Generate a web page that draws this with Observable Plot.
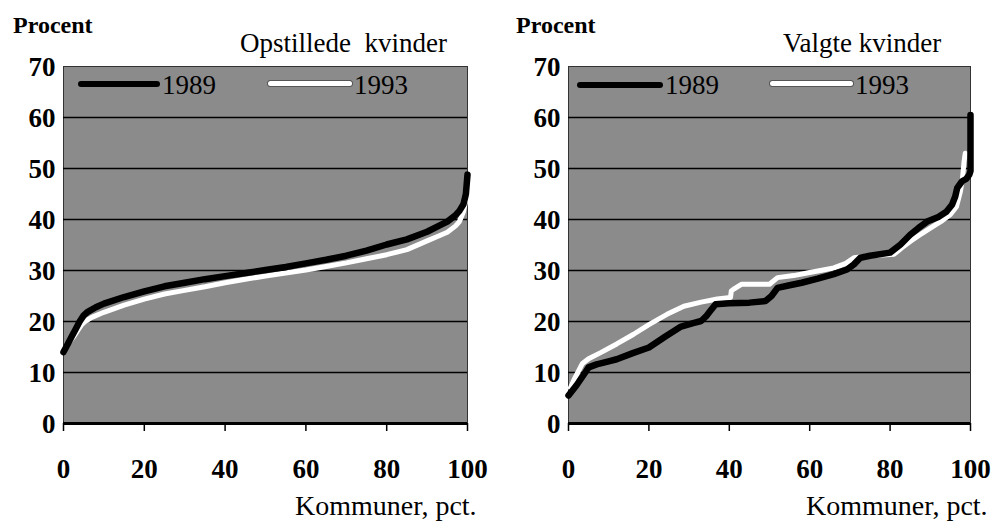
<!DOCTYPE html>
<html>
<head>
<meta charset="utf-8">
<script src="https://cdn.jsdelivr.net/npm/d3@7"></script>
<script src="https://cdn.jsdelivr.net/npm/@observablehq/plot@0.6"></script>
<style>
  html, body { margin: 0; padding: 0; background: #fff; }
  #wrap { position: relative; width: 995px; height: 522px; display: flex; color: #000; font-family: 'Liberation Serif', serif; }
  .t { position: absolute; white-space: pre; line-height: 1; font-family: 'Liberation Serif', serif; }
  .lg { position: absolute; }
</style>
</head>
<body>
<div id="wrap"></div>
<script>
// ---- data ----
const xTicks = [0, 20, 40, 60, 80, 100];
const yTicks = [0, 10, 20, 30, 40, 50, 60, 70];
const gridValues = [10, 20, 30, 40, 50, 60];
const seriesNames = ["1989", "1993"];
const panelTitles = ["Opstillede  kvinder", "Valgte kvinder"];
const yAxisTitle = "Procent";
const xAxisTitle = "Kommuner, pct.";

// Opstillede kvinder (candidates)
const opst1989X = [0, 1, 2, 3, 4, 5, 6, 8, 10, 15, 20, 25, 30, 35, 40, 46, 50, 55, 60, 65, 70, 75, 80, 85, 90, 93, 95, 97, 98, 99, 99.6, 100];
const opst1989Y = [14, 15.5, 17, 18.5, 20, 21.2, 21.9, 22.8, 23.5, 24.8, 25.9, 26.9, 27.6, 28.3, 28.9, 29.6, 30.1, 30.7, 31.4, 32.1, 32.9, 33.9, 35.1, 36.1, 37.6, 38.8, 39.6, 40.8, 41.7, 43, 45, 48.8];
const opst1993X = [1.5, 2.5, 3.5, 4.5, 5.5, 7, 10, 15, 20, 25, 30, 35, 40, 45, 50, 55, 60, 65, 70, 75, 80, 85, 90, 93, 95, 97, 98, 99, 99.5, 100];
const opst1993Y = [16, 17, 18.2, 19.4, 20.1, 20.8, 21.8, 23.2, 24.4, 25.4, 26.1, 26.8, 27.6, 28.3, 28.9, 29.5, 30.1, 30.8, 31.5, 32.3, 33.1, 34.1, 35.8, 36.8, 37.5, 38.7, 39.6, 41.5, 43.5, 46];

// Valgte kvinder (elected)
const valg1989X = [0, 2, 4, 5, 7, 10, 12, 16, 20, 24, 28, 31, 33, 34.2, 35.2, 36.6, 40, 45, 49, 50.5, 52, 55, 58, 62, 66, 69.3, 71, 72.6, 75, 80, 82.6, 85, 87, 89.2, 92, 94, 95.4, 96.2, 96.7, 97.9, 99, 99.7, 100, 100];
const valg1989Y = [5.5, 7.5, 9.8, 11, 11.6, 12.2, 12.6, 13.8, 14.9, 17, 19, 19.7, 20.1, 21, 22, 23.4, 23.6, 23.7, 24, 25, 26.6, 27.1, 27.6, 28.4, 29.3, 30.2, 31.2, 32.5, 32.9, 33.5, 35.1, 37, 38.3, 39.6, 40.5, 41.5, 42.9, 44.5, 46.2, 47.5, 48, 48.8, 49.5, 60.5];
const valg1993X = [0.5, 1.5, 2.5, 3.4, 5, 8, 12, 16.2, 20, 24.5, 28.7, 33, 37, 40.3, 40.5, 41, 43, 50, 52, 56, 60, 66, 69, 71, 75, 81, 83, 85, 88, 90, 93, 95, 96.5, 97.5, 98, 98.4, 98.7];
const valg1993Y = [7, 8.8, 10.3, 11.7, 12.7, 13.9, 15.6, 17.5, 19.4, 21.4, 23, 23.8, 24.4, 24.7, 26, 26.3, 27.3, 27.3, 28.6, 29, 29.6, 30.5, 31.4, 32.5, 32.9, 33.2, 34.5, 35.7, 37.3, 38.3, 39.8, 41, 42.5, 45.5, 48, 51.4, 53];

const toPts = (xs, ys) => xs.map((x, i) => ({x, y: ys[i]}));

function makePanel(id, width, marginLeft, marginRight, s1989, s1993) {
  const plot = Plot.plot({
    width, height: 522,
    marginTop: 66, marginBottom: 99, marginLeft, marginRight,
    x: {domain: [0, 100], label: null},
    y: {domain: [0, 70], label: null},
    style: {fontFamily: "Liberation Serif", fontSize: "27px", fontWeight: "bold", color: "black", background: "white", overflow: "visible"},
    marks: [
      Plot.frame({fill: `url(#${id})`, stroke: "#333", strokeWidth: 1}),
      Plot.ruleY(gridValues, {stroke: "black", strokeWidth: 1.6}),
      Plot.ruleY([0], {stroke: "black", strokeWidth: 3}),
      Plot.axisX({ticks: xTicks, tickSize: 8, tickPadding: 27, strokeWidth: 1.5, label: null, fontFamily: "Liberation Serif"}),
      Plot.axisY({ticks: yTicks, tickSize: 0, tickPadding: 8, dy: 1, label: null, fontFamily: "Liberation Serif"}),
      Plot.line(s1993, {x: "x", y: "y", stroke: "white", strokeWidth: 5, strokeLinejoin: "round", strokeLinecap: "round"}),
      Plot.line(s1989, {x: "x", y: "y", stroke: "black", strokeWidth: 6.5, strokeLinejoin: "round", strokeLinecap: "round"})
    ]
  });
  const ns = "http://www.w3.org/2000/svg";
  const defs = document.createElementNS(ns, "defs");
  defs.innerHTML = `<pattern id="${id}" width="2" height="2" patternUnits="userSpaceOnUse">
    <rect width="2" height="2" fill="#c2c2c2"/>
    <rect width="1" height="1" fill="#545454"/>
    <rect x="1" y="1" width="1" height="1" fill="#545454"/></pattern>`;
  plot.insertBefore(defs, plot.firstChild);
  return plot;
}

const wrap = document.getElementById("wrap");
wrap.appendChild(makePanel("ditherA", 497, 63, 30, toPts(opst1989X, opst1989Y), toPts(opst1993X, opst1993Y)));
wrap.appendChild(makePanel("ditherB", 498, 71, 25, toPts(valg1989X, valg1989Y), toPts(valg1993X, valg1993Y)));

function addText(txt, left, top, size, weight) {
  const d = document.createElement("div");
  d.className = "t";
  d.textContent = txt;
  d.style.left = left + "px";
  d.style.top = top + "px";
  d.style.fontSize = size + "px";
  d.style.fontWeight = weight;
  wrap.appendChild(d);
}
function addLine(left, top, w, h, color, border) {
  const d = document.createElement("div");
  d.className = "lg";
  Object.assign(d.style, {left: left + "px", top: top + "px", width: w + "px", height: h + "px", background: color, borderRadius: (h / 2) + "px"});
  if (border) d.style.boxShadow = "0 0 0 1px #555";
  wrap.appendChild(d);
}

// panel texts
addText(yAxisTitle, 13, 13, 24, "bold");
addText(yAxisTitle, 516, 13, 24, "bold");
addText(panelTitles[0], 240, 30, 27, "normal");
addText(panelTitles[1], 783, 30, 27, "normal");
addText(xAxisTitle, 295, 492, 28, "normal");
addText(xAxisTitle, 806, 492, 28, "normal");

// legends
addLine(78, 81, 82, 6, "#000");
addText(seriesNames[0], 162, 72, 27, "normal");
addLine(268, 81, 84, 5, "#fff", true);
addText(seriesNames[1], 354, 72, 27, "normal");
addLine(577, 82, 86, 6, "#000");
addText(seriesNames[0], 665, 72, 27, "normal");
addLine(770, 81, 83, 5, "#fff", true);
addText(seriesNames[1], 855, 72, 27, "normal");
</script>
</body>
</html>
